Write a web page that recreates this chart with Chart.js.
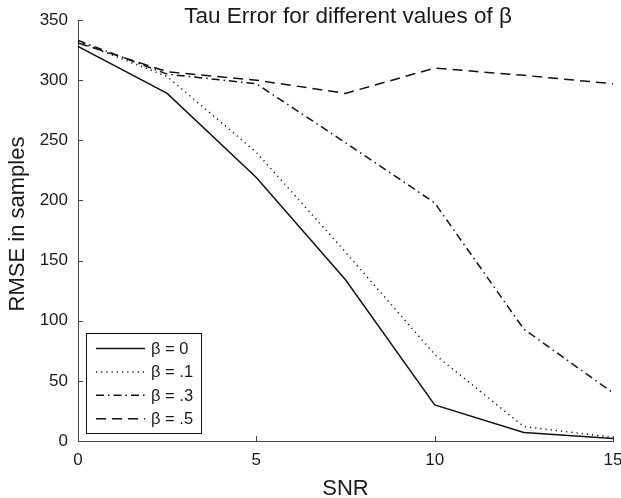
<!DOCTYPE html>
<html>
<head>
<meta charset="utf-8">
<script src="https://cdn.jsdelivr.net/npm/chart.js@4/dist/chart.umd.min.js"></script>
<style>
  html, body { margin: 0; padding: 0; background: #fff; }
  #wrap { width: 621px; height: 498px; }
</style>
</head>
<body>
<div id="wrap"><canvas id="c" width="621" height="498"></canvas></div>
<script>
const snr = [0, 2.5, 5, 7.5, 10, 12.5, 15];
const beta0  = [328, 289, 219, 134, 30, 7, 2];
const beta01 = [332, 303, 240, 157, 72, 12, 3];
const beta03 = [333, 305, 297, 248, 198, 93, 40];
const beta05 = [331, 307, 300, 289, 310, 304, 297];
const seriesLabels = ['β = 0', 'β = .1', 'β = .3', 'β = .5'];
const xTicks = [0, 5, 10, 15];
const yTicks = [0, 50, 100, 150, 200, 250, 300, 350];
const titleText = 'Tau Error for different values of β';
const xLabel = 'SNR';
const yLabel = 'RMSE in samples';

const FONT = '"Liberation Sans", Arial, Helvetica, sans-serif';
const dashes = [[], [1.2, 4], [8, 4, 1.5, 4], [10, 6]];
const series = [beta0, beta01, beta03, beta05];

const datasets = series.map((vals, i) => ({
  label: seriesLabels[i],
  data: vals.map((v, j) => ({ x: snr[j], y: v })),
  borderColor: '#111',
  borderWidth: 1.5,
  borderDash: dashes[i],
  pointRadius: 0,
  fill: false,
  tension: 0
}));

const decor = {
  id: 'decor',
  afterDraw(chart) {
    const ctx = chart.ctx;
    const xs = chart.scales.x, ys = chart.scales.y;
    const ca = chart.chartArea;
    ctx.save();
    // inward ticks
    ctx.strokeStyle = '#444';
    ctx.lineWidth = 1;
    ctx.beginPath();
    yTicks.forEach(v => {
      const y = Math.round(ys.getPixelForValue(v)) + 0.5;
      ctx.moveTo(ca.left, y); ctx.lineTo(ca.left + 5, y);
    });
    xTicks.forEach(v => {
      const x = Math.round(xs.getPixelForValue(v)) + 0.5;
      ctx.moveTo(x, ca.bottom); ctx.lineTo(x, ca.bottom - 5);
    });
    ctx.stroke();

    // title
    ctx.fillStyle = '#1a1a1a';
    ctx.font = '22.5px ' + FONT;
    ctx.textAlign = 'center';
    ctx.textBaseline = 'alphabetic';
    ctx.fillText(titleText, 348, 23);

    ctx.font = '22px ' + FONT;
    // x label
    ctx.fillText(xLabel, (ca.left + ca.right) / 2, 495);
    // y label
    ctx.save();
    ctx.translate(24, 224);
    ctx.rotate(-Math.PI / 2);
    ctx.fillText(yLabel, 0, 0);
    ctx.restore();

    // legend
    const lx = 86.5, ly = 333.5, lw = 115, lh = 100;
    ctx.fillStyle = '#fff';
    ctx.fillRect(lx, ly, lw, lh);
    ctx.strokeStyle = '#111';
    ctx.lineWidth = 1;
    ctx.setLineDash([]);
    ctx.strokeRect(lx, ly, lw, lh);
    chart.data.datasets.forEach((ds, i) => {
      const y = 348.5 + i * 23.4;
      ctx.strokeStyle = ds.borderColor;
      ctx.lineWidth = ds.borderWidth;
      ctx.setLineDash(ds.borderDash);
      ctx.beginPath();
      ctx.moveTo(96, y); ctx.lineTo(145, y);
      ctx.stroke();
      ctx.setLineDash([]);
      ctx.fillStyle = '#1a1a1a';
      ctx.font = '16.5px ' + FONT;
      ctx.textAlign = 'left';
      ctx.textBaseline = 'middle';
      ctx.fillText(ds.label, 151, y + 1);
    });
    ctx.restore();
  }
};

new Chart(document.getElementById('c'), {
  type: 'line',
  data: { datasets },
  options: {
    responsive: false,
    animation: false,
    devicePixelRatio: 1,
    layout: { padding: { left: 0, top: 20, right: 8, bottom: 0 } },
    plugins: { legend: { display: false }, title: { display: false }, tooltip: { enabled: false } },
    scales: {
      x: {
        type: 'linear', min: 0, max: 15,
        afterBuildTicks: s => { s.ticks = xTicks.map(v => ({ value: v })); },
        afterFit: s => { s.height = 57; s.paddingLeft = 0; s.paddingRight = 0; },
        grid: { display: false },
        border: { display: true, color: '#444', width: 1 },
        ticks: { color: '#1a1a1a', font: { family: FONT, size: 17 }, padding: 1, maxRotation: 0 }
      },
      y: {
        type: 'linear', min: 0, max: 350,
        afterBuildTicks: s => { s.ticks = yTicks.map(v => ({ value: v })); },
        afterFit: s => { s.width = 78; s.paddingTop = 0; s.paddingBottom = 0; },
        grid: { display: false },
        border: { display: true, color: '#444', width: 1 },
        ticks: { color: '#1a1a1a', font: { family: FONT, size: 17 }, padding: 2 }
      }
    }
  },
  plugins: [decor]
});
</script>
</body>
</html>
